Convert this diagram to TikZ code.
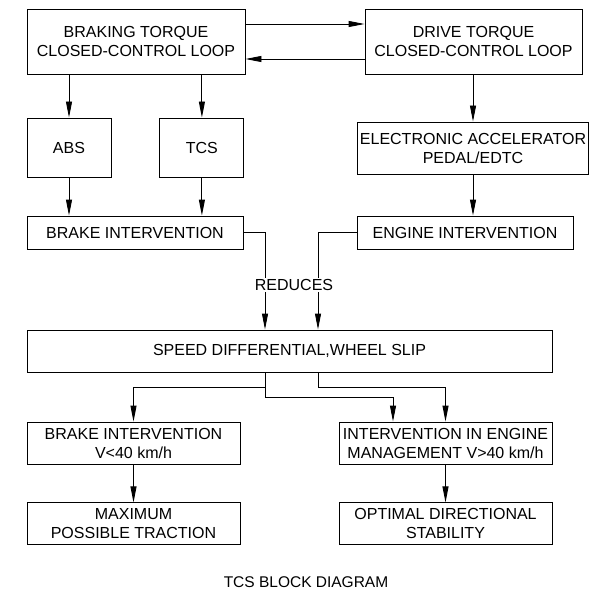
\documentclass[tikz,border=0pt]{standalone}
\usepackage{fontspec}
\setmainfont{Liberation Sans}
\usetikzlibrary{arrows.meta,positioning}

\begin{document}
\begin{tikzpicture}[x=1pt, y=-1pt, >={Triangle[length=16pt,width=6pt]}, line width=0.9pt,
  every node/.style={font=\fontsize{16}{19}\selectfont},
  blk/.style={draw, align=center, inner xsep=2pt, inner ysep=0pt}]
\useasboundingbox (0,0) rectangle (590,596);
% top row
\node[blk,minimum width=218,minimum height=64.5] (brk) at (136,41.75) {BRAKING TORQUE\\CLOSED-CONTROL LOOP};
\node[blk,minimum width=217,minimum height=64.5] (drv) at (473.5,41.75) {DRIVE TORQUE\\CLOSED-CONTROL LOOP};
\node[blk,minimum width=84,minimum height=59] (abs) at (69,147.5) {ABS};
\node[blk,minimum width=84,minimum height=59,right=48pt of abs] (tcs) {TCS};
\node[blk,minimum width=231,minimum height=52] (eacc) at (473,148) {ELECTRONIC ACCELERATOR\\PEDAL/EDTC};
\node[blk,minimum width=216,minimum height=33] (bint) at (135,232.5) {BRAKE INTERVENTION};
\node[blk,minimum width=216,minimum height=33] (eint) at (465,232.5) {ENGINE INTERVENTION};
\node[blk,minimum width=525,minimum height=42] (spd) at (289.5,351) {SPEED DIFFERENTIAL,WHEEL SLIP};
% bottom row
\node[blk,minimum width=213,minimum height=42] (bint2) at (133.5,443) {BRAKE INTERVENTION\\V<40 km/h};
\node[blk,minimum width=213,minimum height=42] (emgmt) at (445.5,443) {INTERVENTION IN ENGINE\\MANAGEMENT V>40 km/h};
\node[blk,minimum width=213,minimum height=42,below=38pt of bint2] (maxt) {MAXIMUM\\POSSIBLE TRACTION};
\node[blk,minimum width=213,minimum height=42,below=38pt of emgmt] (opt) {OPTIMAL DIRECTIONAL\\STABILITY};
\coordinate (up) at (0,24);
\coordinate (dn) at (0,59);
\coordinate (jL) at (265,387);
\coordinate (jM) at (265,397);
\coordinate (jR) at (318,387);
\draw[->] (brk.east |- up) -- (drv.west |- up);
\draw[->] (drv.west |- dn) -- (brk.east |- dn);
\draw[->] (brk.south -| abs.north) -- (abs.north);
\draw[->] (brk.south -| tcs.north) -- (tcs.north);
\draw[->] (drv.south -| eacc.north) -- (eacc.north);
\draw[->] (abs.south) -- (abs.south |- bint.north);
\draw[->] (tcs.south) -- (tcs.south |- bint.north);
\draw[->] (eacc.south) -- (eacc.south |- eint.north);
\draw[->] (bint.east) -| (spd.north -| jL);
\draw[->] (eint.west) -| (spd.north -| jR);
\node[fill=white,inner sep=1pt] (red) at (294,285) {REDUCES};
\draw[->] (spd.south -| jM) -- (jM) -| ([xshift=-52.5pt]emgmt.north);
\draw[->] (jL) -| (bint2.north);
\draw[->] (spd.south -| jR) -- (jR) -| (emgmt.north);
\draw[->] (bint2) -- (maxt);
\draw[->] (emgmt) -- (opt);
\node[font=\fontsize{15.5}{19}\selectfont] (ttl) at (306,582) {TCS BLOCK DIAGRAM};
\end{tikzpicture}
\end{document}
